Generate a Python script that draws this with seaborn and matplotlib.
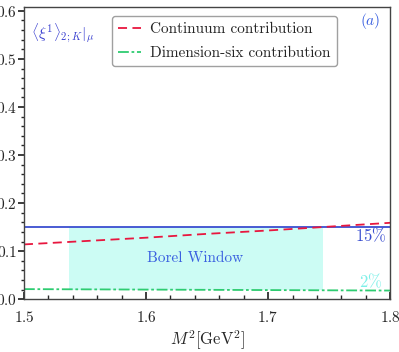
import seaborn as sns
import matplotlib.pyplot as plt
import pandas as pd
from matplotlib.ticker import MultipleLocator

# data
m2 = [1.50, 1.55, 1.60, 1.65, 1.70, 1.75, 1.80]
continuum = [0.114, 0.121, 0.128, 0.136, 0.143, 0.151, 0.159]
dim_six = [0.021, 0.0205, 0.020, 0.0195, 0.019, 0.0185, 0.018]
borel_lo, borel_hi = 1.537, 1.745
cont_limit = 0.15
d6_limit = 0.02

sns.set_theme(style="ticks")
plt.rcParams['font.family'] = ['serif']
plt.rcParams['font.serif'] = ['cmr10', 'DejaVu Serif']
plt.rcParams['mathtext.fontset'] = 'cm'
plt.rcParams['axes.formatter.use_mathtext'] = True

df = pd.DataFrame({'M2': m2, 'Continuum contribution': continuum,
                   'Dimension-six contribution': dim_six})

fig, ax = plt.subplots(figsize=(3.99, 3.52), dpi=100)

ax.fill_between([borel_lo, borel_hi], d6_limit, cont_limit, color='#ccfcf4', lw=0)
ax.axhline(cont_limit, color='#3a4ed0', lw=1.3)
sns.lineplot(data=df, x='M2', y='Continuum contribution', ax=ax, color='#e8173f',
             lw=1.3, label='Continuum contribution')
ax.lines[-1].set_dashes([5, 3])
sns.lineplot(data=df, x='M2', y='Dimension-six contribution', ax=ax, color='#2ecc71',
             lw=1.3, label='Dimension-six contribution')
ax.lines[-1].set_dashes([6, 1.5, 1.5, 1.5])

ax.text(1.64, 0.085, 'Borel Window', color='#3a60e0', fontsize=11, ha='center', va='center')
ax.text(1.784, 0.133, r'$15\%$', color='#3a4ed0', fontsize=12, ha='center', va='center')
ax.text(1.784, 0.038, r'$2\%$', color='#7ff0e8', fontsize=12, ha='center', va='center')
ax.text(1.784, 0.578, r'$(a)$', color='#3a60e0', fontsize=11, ha='center', va='center')
ax.text(1.506, 0.553, r'$\langle\xi^1\rangle_{2;K}|_\mu$', color='#3a40d0', fontsize=11,
        ha='left', va='center')

ax.set_xlim(1.5, 1.8)
ax.set_ylim(0, 0.608)
ax.xaxis.set_major_locator(MultipleLocator(0.1))
ax.xaxis.set_minor_locator(MultipleLocator(0.02))
ax.yaxis.set_major_locator(MultipleLocator(0.1))
ax.yaxis.set_minor_locator(MultipleLocator(0.02))
ax.tick_params(axis='x', which='both', direction='in', labelsize=11, pad=8)
ax.tick_params(axis='x', which='major', length=5)
ax.tick_params(axis='x', which='minor', length=3)
ax.tick_params(axis='y', which='both', direction='out', labelsize=11, pad=1)
ax.tick_params(axis='y', which='major', length=4)
ax.tick_params(axis='y', which='minor', length=2.5)
ax.set_xlabel(r'$M^2[\mathrm{GeV}^2]$', fontsize=12, labelpad=2)
ax.set_ylabel('')
for s in ax.spines.values():
    s.set_color('#444444')
    s.set_linewidth(1.0)

leg = ax.legend(loc='upper center', bbox_to_anchor=(0.547, 0.995), fontsize=11, frameon=True,
                fancybox=True, handlelength=1.5, handletextpad=0.6, labelspacing=0.7,
                borderpad=0.4)
leg.get_frame().set_edgecolor('#888888')

fig.subplots_adjust(left=0.06, right=0.978, top=0.98, bottom=0.15)
fig.savefig('out.png', dpi=100)
